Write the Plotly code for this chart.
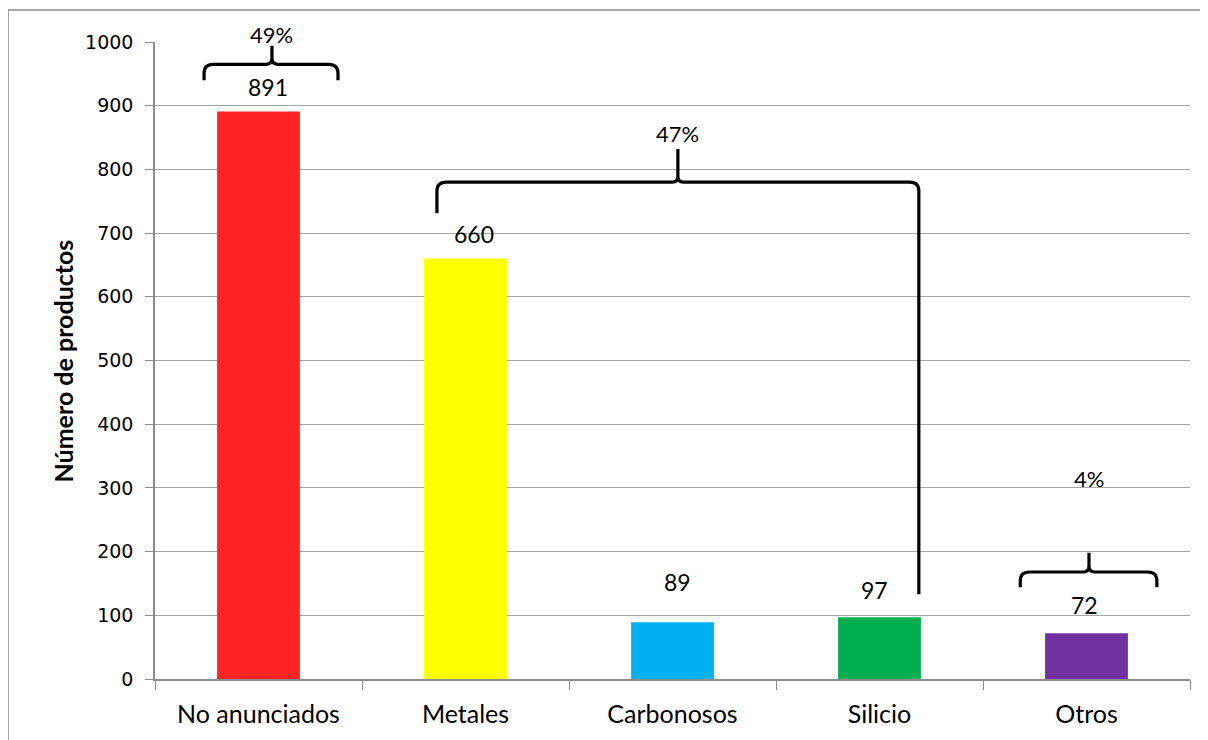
import plotly.graph_objects as go

# ---- data ----
categories = ["No anunciados", "Metales", "Carbonosos", "Silicio", "Otros"]
values = [891, 660, 89, 97, 72]
bar_colors = ["#FF2424", "#FFFF00", "#00B0F0", "#00B050", "#7030A0"]
y_ticks = [0, 100, 200, 300, 400, 500, 600, 700, 800, 900, 1000]
pct_labels = ["49%", "47%", "4%"]
# groups of categories each brace covers (first index, last index)
pct_groups = [(0, 0), (1, 3), (4, 4)]

# ---- styling / placement ----
label_shift = [(9, 24), (8, 25), (5, 40), (-5, 27), (-2, 28)]  # (xshift, yshift) px
# brace geometry: x0, x1, xc (axis units), y of horizontal, y left end, y right end, y peak, y text
braces = [
    dict(x0=-0.263, x1=0.384, xc=0.065, yh=965, yl=940, yr=940, yp=994, yt=1012),
    dict(x0=0.862, x1=3.19, xc=2.026, yh=780, yl=731, yr=133, yp=832, yt=857),
    dict(x0=3.68, x1=4.34, xc=4.012, yh=168, yl=144, yr=144, yp=198, yt=315),
]
Y_MAX = 1000

FONT = "Lato, Calibri, Carlito, sans-serif"

fig = go.Figure()
fig.add_trace(go.Bar(
    x=categories, y=values, marker=dict(color=bar_colors, line=dict(width=0)),
    width=0.4, showlegend=False, hoverinfo="x+y",
))
# invisible helper trace so numeric overlay axis exists
fig.add_trace(go.Scatter(x=[-0.5, 4.5], y=[0, 0], xaxis="x2", mode="markers",
                         marker=dict(opacity=0), showlegend=False, hoverinfo="skip"))

annotations = []
for c, v, (dx, dy) in zip(categories, values, label_shift):
    annotations.append(dict(x=c, y=v, xref="x", yref="y", text=str(v), showarrow=False,
                            xshift=dx, yshift=dy, font=dict(family=FONT, size=23, color="#000"),
                            xanchor="center", yanchor="middle"))

shapes = []
rx, ry = 0.045, 14
for lab, b in zip(pct_labels, braces):
    x0, x1, xc, yh, yl, yr, yp = b["x0"], b["x1"], b["xc"], b["yh"], b["yl"], b["yr"], b["yp"]
    path = (f"M {x0},{yl} L {x0},{yh-ry} Q {x0},{yh} {x0+rx},{yh} "
            f"L {xc-rx*0.6},{yh} Q {xc},{yh} {xc},{yh+ry*0.7} L {xc},{yp} "
            f"M {xc},{yh+ry*0.7} Q {xc},{yh} {xc+rx*0.6},{yh} "
            f"L {x1-rx},{yh} Q {x1},{yh} {x1},{yh-ry} L {x1},{yr}")
    shapes.append(dict(type="path", path=path, xref="x2", yref="y",
                       line=dict(color="#000", width=3.2)))
    annotations.append(dict(x=xc, y=b["yt"] / Y_MAX, xref="x2", yref="paper", text=lab, showarrow=False,
                            font=dict(family=FONT, size=22, color="#000"),
                            xanchor="center", yanchor="middle"))

# y axis title
annotations.append(dict(x=-0.0889, y=0.5, xref="paper", yref="paper", text="<b>Número de productos</b>",
                        textangle=-90, showarrow=False, font=dict(family=FONT, size=25, color="#000"),
                        xanchor="center", yanchor="middle"))

# outer chart border (only top and left edges visible in the reference)
border = dict(color="#8a8a8a", width=1.5)
shapes.append(dict(type="line", xref="paper", yref="paper", x0=-0.142, x1=1.02, y0=1.0502, y1=1.0502,
                   line=border, layer="below"))
shapes.append(dict(type="line", xref="paper", yref="paper", x0=-0.142, x1=-0.142, y0=-0.1, y1=1.0502,
                   line=border, layer="below"))

fig.update_layout(
    width=1200, height=732,
    margin=dict(l=147, r=18, t=34, b=61),
    paper_bgcolor="white", plot_bgcolor="white",
    bargap=0.6,
    xaxis=dict(type="category", range=[-0.5, 4.5], showline=True, linecolor="#8c8c8c", linewidth=1.5,
               ticks="outside", tickson="boundaries", ticklen=9, tickcolor="#8c8c8c", tickwidth=1,
               showgrid=False, tickfont=dict(family=FONT, size=25, color="#000"),
               ticklabelstandoff=12),
    xaxis2=dict(overlaying="x", range=[-0.5, 4.5], visible=False, fixedrange=True),
    yaxis=dict(range=[0, Y_MAX], tickvals=y_ticks, showline=True, linecolor="#8c8c8c", linewidth=1.5,
               ticks="outside", ticklen=8, tickcolor="#8c8c8c", showgrid=True, gridcolor="#a6a6a6",
               gridwidth=1, zeroline=False, tickfont=dict(family="DejaVu Sans", size=19, color="#000"),
               ticklabelstandoff=8),
    annotations=annotations, shapes=shapes,
)

fig.write_html("out.html")
